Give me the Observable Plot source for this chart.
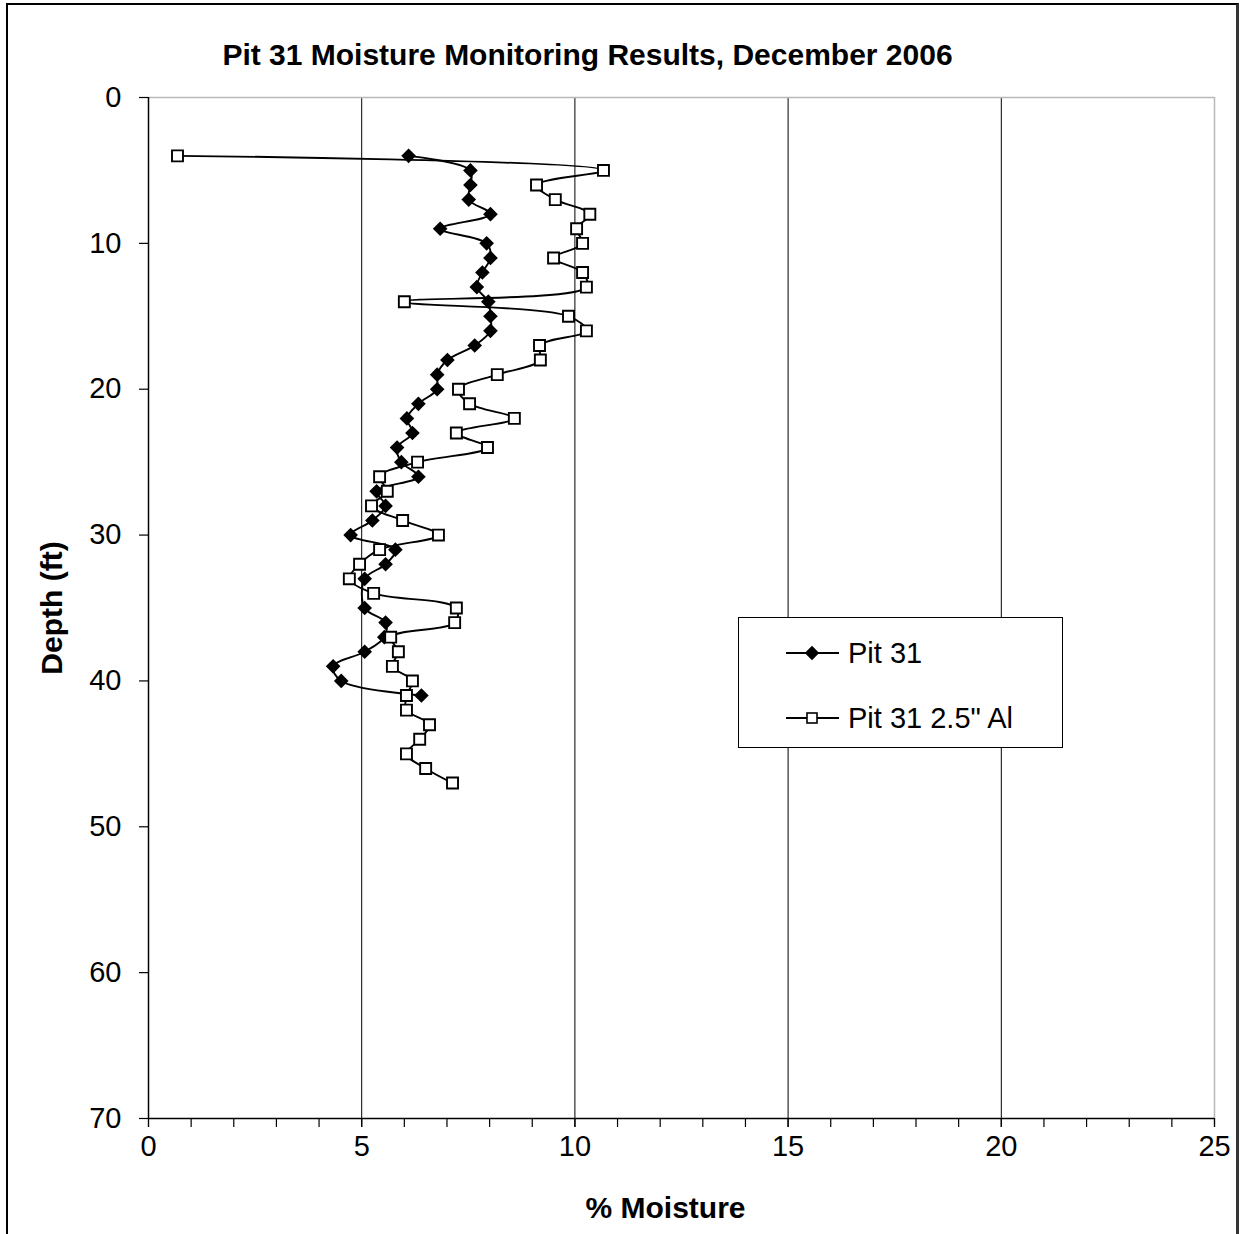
<!DOCTYPE html>
<html>
<head>
<meta charset="utf-8">
<script src="https://cdn.jsdelivr.net/npm/d3@7"></script>
<script src="https://cdn.jsdelivr.net/npm/@observablehq/plot@0.6"></script>
<style>
  html, body { margin: 0; padding: 0; background: #fff; overflow: hidden; }
  #wrap { position: relative; width: 1243px; height: 1234px; font-family: "Liberation Sans", Arial, sans-serif; }
  #border { position: absolute; left: 6px; top: 3px; width: 1228px; height: 1300px; border: 2px solid #000; border-right: 3px solid #333; pointer-events: none; }
  #legend { position: absolute; left: 738px; top: 617px; width: 323px; height: 129px; background: #fff; border: 1px solid #000; }
</style>
</head>
<body>
<div id="wrap">
  <div id="chart"></div>
  <div id="legend"></div>
  <div id="border"></div>
</div>
<script>
const titleText = "Pit 31 Moisture Monitoring Results, December 2006";
const xLabel = "% Moisture";
const yLabel = "Depth (ft)";
const seriesNames = ["Pit 31", "Pit 31 2.5\" Al"];

const depthPit31 = [4,5,6,7,8,9,10,11,12,13,14,15,16,17,18,19,20,21,22,23,24,25,26,27,28,29,30,31,32,33,35,36,37,38,39,40,41];
const moisturePit31 = [6.10,7.55,7.55,7.51,8.02,6.84,7.93,8.02,7.83,7.70,7.97,8.02,8.02,7.65,7.01,6.77,6.77,6.33,6.06,6.19,5.83,5.93,6.33,5.35,5.56,5.25,4.74,5.79,5.56,5.07,5.07,5.56,5.53,5.07,4.33,4.52,6.40];

const depthAl = [4,5,6,7,8,9,10,11,12,13,14,15,16,17,18,19,20,21,22,23,24,25,26,27,28,29,30,31,32,33,34,35,36,37,38,39,40,41,42,43,44,45,46,47];
const moistureAl = [0.68,10.67,9.10,9.54,10.35,10.04,10.18,9.50,10.18,10.27,6.00,9.85,10.27,9.17,9.19,8.18,7.27,7.53,8.58,7.22,7.95,6.31,5.42,5.60,5.23,5.96,6.80,5.42,4.95,4.71,5.28,7.22,7.18,5.68,5.86,5.72,6.19,6.05,6.05,6.59,6.36,6.05,6.50,7.13];

const xMajorTicks = [0,5,10,15,20,25];
const xMinorTicks = d3.range(0, 26, 1);
const xGrid = [5,10,15,20];
const yTicks = [0,10,20,30,40,50,60,70];

const pit31 = depthPit31.map((d, i) => ({d, m: moisturePit31[i]}));
const al = depthAl.map((d, i) => ({d, m: moistureAl[i]}));

const FS = 29;
const plot = Plot.plot({
  width: 1243,
  height: 1234,
  marginLeft: 148,
  marginRight: 29,
  marginTop: 97,
  marginBottom: 116,
  style: {fontFamily: "'Liberation Sans', Arial, sans-serif", fontSize: FS + "px", color: "#000", background: "#fff"},
  x: {domain: [0, 25]},
  y: {domain: [0, 70], reverse: true},
  marks: [
    Plot.gridX(xGrid, {stroke: "#000", strokeOpacity: 1, strokeWidth: 1}),
    Plot.ruleY([0], {stroke: "#b8b8b8", strokeWidth: 1.5}),
    Plot.ruleX([25], {stroke: "#b8b8b8", strokeWidth: 1.5}),
    Plot.ruleX([0], {stroke: "#000", strokeWidth: 1.5}),
    Plot.ruleY([70], {stroke: "#000", strokeWidth: 1.5}),
    Plot.axisX(xMinorTicks, {tickSize: 9, tickFormat: () => "", label: null, strokeWidth: 1.2}),
    Plot.axisX(xMajorTicks, {tickSize: 9, tickPadding: 8, label: null, fontSize: FS, strokeWidth: 1.2}),
    Plot.axisY(yTicks, {tickSize: 9, tickPadding: 18, label: null, fontSize: FS, strokeWidth: 1.2}),
    Plot.line(pit31, {x: "m", y: "d", curve: "catmull-rom", stroke: "#000", strokeWidth: 1.9}),
    Plot.dot(pit31, {x: "m", y: "d", symbol: "diamond2", r: 6.6, fill: "#000", stroke: "none"}),
    Plot.line(al, {x: "m", y: "d", curve: "catmull-rom", stroke: "#000", strokeWidth: 1.9}),
    Plot.dot(al, {x: "m", y: "d", symbol: "square", r: 6.2, fill: "#fff", stroke: "#000", strokeWidth: 1.9}),
    Plot.text([titleText], {text: d => d, frameAnchor: "top", textAnchor: "middle", lineAnchor: "middle", dx: -94, dy: -42, fontSize: 30, fontWeight: "bold", fill: "#000"}),
    Plot.text([xLabel], {text: d => d, frameAnchor: "bottom", textAnchor: "middle", lineAnchor: "middle", dx: -16, dy: 90, fontSize: 30, fontWeight: "bold", fill: "#000"}),
    Plot.text([yLabel], {text: d => d, frameAnchor: "left", textAnchor: "middle", lineAnchor: "middle", dx: -96, rotate: -90, fontSize: 30, fontWeight: "bold", fill: "#000"})
  ]
});
document.getElementById("chart").appendChild(plot);

// Legend
const lg = d3.select("#legend").append("svg").attr("width", 323).attr("height", 129)
  .style("font-family", "'Liberation Sans', Arial, sans-serif");
const rows = [{y: 35, sym: "diamond"}, {y: 100, sym: "square"}];
rows.forEach((r, i) => {
  const g = lg.append("g").attr("transform", `translate(0,${r.y})`);
  g.append("line").attr("x1", 47).attr("x2", 100).attr("stroke", "#000").attr("stroke-width", 1.8);
  if (r.sym === "diamond") {
    g.append("path").attr("d", d3.symbol(d3.symbolDiamond2, Math.PI * 42)()).attr("transform", "translate(73,0)").attr("fill", "#000");
  } else {
    g.append("rect").attr("x", 68).attr("y", -5).attr("width", 10).attr("height", 10).attr("fill", "#fff").attr("stroke", "#000").attr("stroke-width", 1.6);
  }
  g.append("text").attr("x", 109).attr("y", 0).attr("dy", "0.35em").attr("font-size", 29).text(seriesNames[i]);
});
</script>
</body>
</html>
